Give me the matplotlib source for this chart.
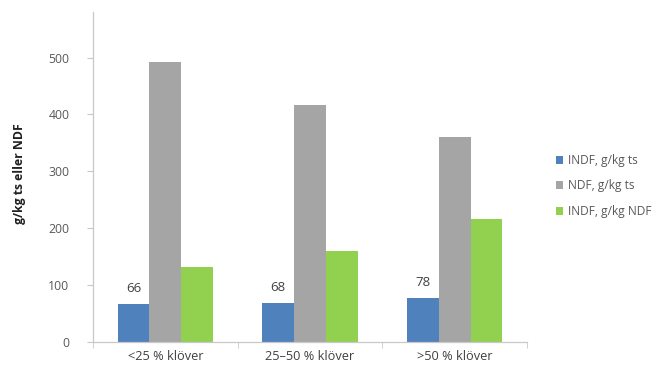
import matplotlib
matplotlib.use("Agg")
import matplotlib.pyplot as plt
import numpy as np

categories = ["<25 % klöver", "25–50 % klöver", ">50 % klöver"]
series_names = ["INDF, g/kg ts", "NDF, g/kg ts", "INDF, g/kg NDF"]
indf_ts = [66, 68, 78]
ndf_ts = [492, 416, 360]
indf_ndf = [131, 160, 216]
yticks = [0, 100, 200, 300, 400, 500]

colors = ["#4F81BD", "#A5A5A5", "#92D050"]
text_color = "#595959"

plt.rcParams["font.family"] = ["Open Sans", "DejaVu Sans"]

fig = plt.figure(figsize=(6.71, 3.72), dpi=100)
ax = fig.add_axes([0.1386, 0.0806, 0.6468, 0.887])

x = np.arange(len(categories))
width = 0.22
values = [indf_ts, ndf_ts, indf_ndf]
for i, (vals, name, c) in enumerate(zip(values, series_names, colors)):
    bars = ax.bar(x + (i - 1) * width, vals, width, color=c, label=name)
    if i == 0:
        for b, v in zip(bars, vals):
            ax.text(b.get_x() + b.get_width() / 2, v + 16, f"{v}",
                    ha="center", va="bottom", fontsize=9.5, color="#404040")

ax.set_xlim(-0.5, len(categories) - 0.5)
ax.set_ylim(0, 580)
ax.set_yticks(yticks)
ax.set_yticklabels([str(t) for t in yticks], fontsize=8.8, color=text_color)
ax.set_xticks(x)
ax.set_xticklabels(categories, fontsize=9.2, color="#404040")
ax.tick_params(axis="x", length=0, pad=6)
ax.tick_params(axis="y", length=4, color="#C8C8C8", pad=13)

# category separators on the x axis
ax.set_xticks(np.arange(len(categories) + 1) - 0.5, minor=True)
ax.tick_params(axis="x", which="minor", length=4, color="#C8C8C8")

for side in ["top", "right"]:
    ax.spines[side].set_visible(False)
for side in ["left", "bottom"]:
    ax.spines[side].set_color("#C8C8C8")
    ax.spines[side].set_linewidth(0.9)

ax.set_ylabel("g/kg ts eller NDF", fontsize=8.8, fontweight="bold",
              color="#202020")
ax.yaxis.set_label_coords(-0.155, 0.51)

leg = fig.legend(loc="center left", bbox_to_anchor=(0.812, 0.5),
                 frameon=False, fontsize=8.6, handlelength=0.6, handleheight=0.6,
                 handletextpad=0.4, labelspacing=1.05)
for t in leg.get_texts():
    t.set_color(text_color)

fig.savefig("out.png", dpi=100, facecolor="white")
